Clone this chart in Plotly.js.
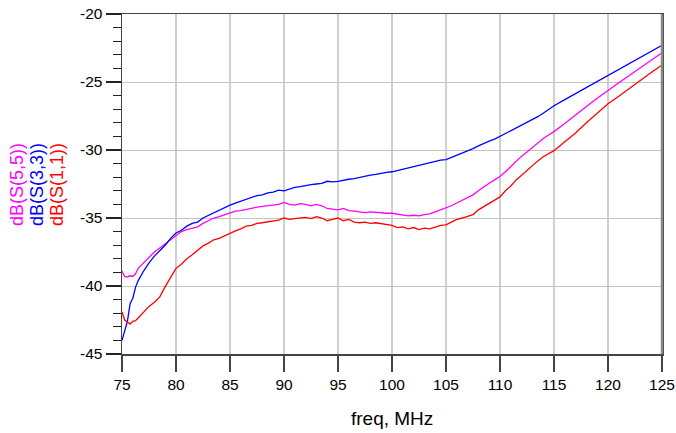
<!DOCTYPE html>
<html>
<head>
<meta charset="utf-8">
<script src="https://cdn.plot.ly/plotly-3.0.1.min.js"></script>
<style>html,body{margin:0;padding:0;background:#fff}#chart{width:676px;height:433px}</style>
</head>
<body>
<div id="chart"></div>
<script>
const freq = [75,75.25,75.5,75.75,76,76.25,76.5,77,77.5,78,78.5,79,79.5,80,80.5,81,81.5,82,82.5,83,83.5,84,84.5,85,85.5,86,86.5,87,87.5,88,88.5,89,89.5,90,90.5,91,91.5,92,92.5,93,93.5,94,94.5,95,95.5,96,96.5,97,97.5,98,98.5,99,99.5,100,100.5,101,101.5,102,102.5,103,103.5,104,104.5,105,105.5,106,106.5,107,107.5,108,108.5,109,109.5,110,110.5,111,111.5,112,112.5,113,113.5,114,114.5,115,116,117,118,119,120,121,122,123,124,125];

const s33 = [-44.0,-43.3,-42.6,-41.3,-40.9,-40.1,-39.6,-38.9,-38.3,-37.8,-37.4,-37.0,-36.5,-36.1,-35.9,-35.6,-35.4,-35.3,-35.0,-34.8,-34.6,-34.4,-34.2,-34.05,-33.9,-33.75,-33.6,-33.45,-33.35,-33.3,-33.15,-33.1,-32.95,-33.0,-32.85,-32.75,-32.7,-32.6,-32.55,-32.5,-32.45,-32.3,-32.35,-32.3,-32.2,-32.15,-32.1,-32.0,-31.95,-31.85,-31.8,-31.7,-31.65,-31.6,-31.5,-31.45,-31.35,-31.25,-31.1,-31.0,-30.9,-30.8,-30.75,-30.7,-30.55,-30.4,-30.2,-30.05,-29.9,-29.7,-29.5,-29.35,-29.2,-29.0,-28.8,-28.6,-28.4,-28.2,-28.0,-27.75,-27.55,-27.3,-27.0,-26.75,-26.3,-25.85,-25.4,-24.95,-24.5,-24.05,-23.65,-23.2,-22.75,-22.3];

const s55 = [-38.9,-39.3,-39.35,-39.25,-39.3,-39.1,-38.7,-38.3,-37.9,-37.5,-37.2,-36.9,-36.6,-36.25,-36.0,-35.85,-35.75,-35.65,-35.4,-35.2,-35.0,-34.9,-34.75,-34.65,-34.5,-34.45,-34.35,-34.3,-34.2,-34.15,-34.1,-34.0,-34.0,-33.85,-34.0,-34.05,-33.95,-34.0,-34.1,-34.0,-34.1,-34.3,-34.35,-34.4,-34.3,-34.45,-34.5,-34.55,-34.6,-34.55,-34.6,-34.6,-34.65,-34.65,-34.7,-34.8,-34.85,-34.8,-34.85,-34.75,-34.7,-34.55,-34.4,-34.3,-34.1,-33.9,-33.7,-33.45,-33.3,-33.0,-32.7,-32.45,-32.2,-31.95,-31.6,-31.2,-30.85,-30.45,-30.15,-29.8,-29.45,-29.15,-28.9,-28.65,-28.05,-27.4,-26.8,-26.2,-25.6,-25.05,-24.5,-23.95,-23.4,-22.85];

const s11 = [-41.9,-42.5,-42.65,-42.8,-42.6,-42.55,-42.35,-41.9,-41.5,-41.2,-40.8,-40.05,-39.4,-38.7,-38.4,-38.0,-37.7,-37.4,-37.05,-36.85,-36.6,-36.5,-36.3,-36.1,-35.95,-35.8,-35.6,-35.55,-35.4,-35.35,-35.3,-35.2,-35.15,-35.0,-35.1,-35.05,-35.0,-34.95,-35.05,-34.9,-35.0,-35.2,-35.1,-35.0,-35.2,-35.1,-35.3,-35.35,-35.3,-35.4,-35.35,-35.4,-35.5,-35.55,-35.7,-35.65,-35.8,-35.7,-35.85,-35.75,-35.8,-35.65,-35.55,-35.5,-35.3,-35.1,-35.0,-34.85,-34.75,-34.4,-34.15,-33.95,-33.7,-33.45,-33.0,-32.65,-32.2,-31.85,-31.45,-31.1,-30.8,-30.5,-30.25,-30.05,-29.4,-28.75,-28.0,-27.3,-26.6,-26.05,-25.45,-24.9,-24.3,-23.75];

const seriesNames = ['dB(S(5,5))','dB(S(3,3))','dB(S(1,1))'];
const seriesColors = ['#ff00ff','#0000ff','#ff0000'];
const xTicks = [75,80,85,90,95,100,105,110,115,120,125];
const yTicks = [-45,-40,-35,-30,-25,-20];
const xTitle = 'freq, MHz';

const font = 'Arial, "Liberation Sans", sans-serif';
const seriesData = [s55, s33, s11];
const traces = seriesData.map((y, i) => ({
  x: freq, y: y, type: 'scatter', mode: 'lines', name: seriesNames[i],
  line: {color: seriesColors[i], width: 1.3}, hoverinfo: 'skip'
}));

const legendX = [17, 37, 57];
const annotations = seriesNames.map((t, i) => ({
  text: t, xref: 'paper', yref: 'paper',
  x: (legendX[i] - 122) / 540, y: (354 - 185) / 340,
  xanchor: 'center', yanchor: 'middle', textangle: -90, showarrow: false,
  font: {family: font, size: 18, color: seriesColors[i]}
}));
annotations.push({
  text: xTitle, xref: 'paper', yref: 'paper', x: 0.5, y: (354 - 418) / 340,
  xanchor: 'center', yanchor: 'middle', showarrow: false,
  font: {family: font, size: 19, color: '#000'}
});

const layout = {
  width: 676, height: 433,
  margin: {l: 122, r: 14, t: 14, b: 79},
  paper_bgcolor: '#fff', plot_bgcolor: '#fff',
  showlegend: false,
  xaxis: {
    range: [75, 125], tickvals: xTicks, ticktext: xTicks.map(String),
    ticks: 'outside', ticklen: 16, tickwidth: 1.5, tickcolor: '#444',
    showline: true, linecolor: '#444', linewidth: 1.5, mirror: true,
    showgrid: true, gridcolor: '#cfcfcf', gridwidth: 1.5,
    zeroline: false, tickfont: {family: font, size: 15.5, color: '#000'}
  },
  yaxis: {
    range: [-45, -20], tickvals: yTicks, ticktext: yTicks.map(String),
    ticks: 'outside', ticklen: 15, tickwidth: 1.5, tickcolor: '#222',
    minor: {dtick: 1, ticks: 'outside', ticklen: 8, tickwidth: 1.2, tickcolor: '#222', showgrid: false},
    showline: true, linecolor: '#444', linewidth: 1.5, mirror: true,
    showgrid: true, gridcolor: '#c4c4c4', gridwidth: 1,
    zeroline: false, tickfont: {family: font, size: 15.5, color: '#000'}
  },
  shapes: [
    {type: 'line', xref: 'paper', yref: 'paper', x0: 1, x1: 1, y0: 0, y1: 1, line: {color: '#888', width: 2.5}}
  ],
  annotations: annotations
};

Plotly.newPlot('chart', traces, layout, {displayModeBar: false, staticPlot: true});
</script>
</body>
</html>
